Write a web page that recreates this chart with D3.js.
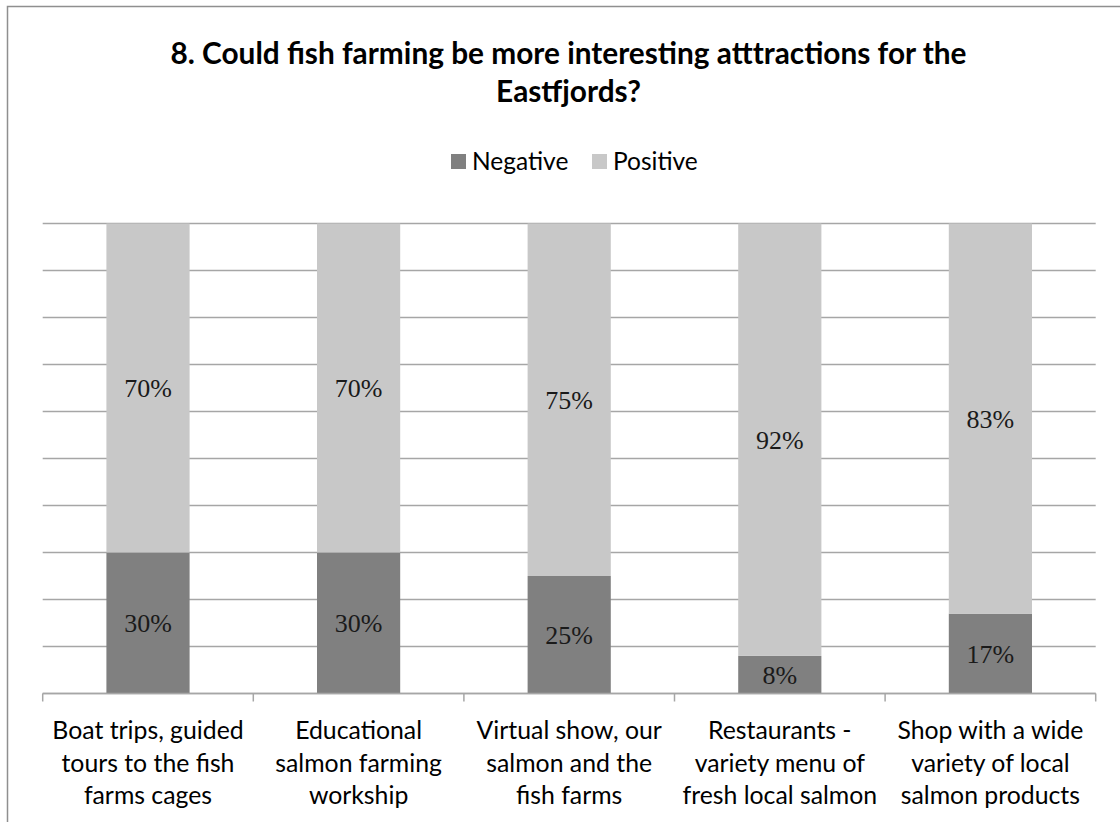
<!DOCTYPE html>
<html>
<head>
<meta charset="utf-8">
<script src="https://cdn.jsdelivr.net/npm/d3@7"></script>
<style>
  html, body { margin: 0; padding: 0; background: #fff; }
  svg { display: block; }
</style>
</head>
<body>
<svg id="chart" width="1120" height="822"></svg>
<script>
// Survey answers: share of respondents per attraction idea
const categories = [
  ["Boat trips, guided", "tours to the fish", "farms cages"],
  ["Educational", "salmon farming", "workship"],
  ["Virtual show, our", "salmon and the", "fish farms"],
  ["Restaurants -", "variety menu of", "fresh local salmon"],
  ["Shop with a wide", "variety of local", "salmon products"]
];
const negative = [30, 30, 25, 8, 17];
const positive = [70, 70, 75, 92, 83];
const seriesNames = ["Negative", "Positive"];
const seriesColors = ["#808080", "#c8c8c8"];
const titleLines = ["8. Could fish farming be more interesting atttractions for the", "Eastfjords?"];
const yTicks = d3.range(0, 101, 10);

const svg = d3.select("#chart");
const plot = { left: 42.7, right: 1095.7, top: 223.5, bottom: 693.5 };
const sansFont = "Lato, Carlito, 'Liberation Sans', sans-serif";
const serifFont = "'Liberation Serif', 'Times New Roman', serif";

// chart frame (the area continues past the visible edges)
svg.append("rect")
  .attr("x", 7.5).attr("y", 6.5)
  .attr("width", 1300).attr("height", 1000)
  .attr("fill", "none").attr("stroke", "#8f8f8f").attr("stroke-width", 1.5);

const keys = categories.map((c, i) => i);
const x = d3.scaleBand().domain(keys).range([plot.left, plot.right]);
const y = d3.scaleLinear().domain([0, 100]).range([plot.bottom, plot.top]);
const barW = x.bandwidth() * 0.395;

// horizontal gridlines
svg.append("g")
  .selectAll("line")
  .data(yTicks)
  .join("line")
  .attr("x1", plot.left).attr("x2", plot.right)
  .attr("y1", d => y(d)).attr("y2", d => y(d))
  .attr("stroke", "#a6a6a6").attr("stroke-width", 1.5);

// stacked columns
const rows = keys.map(i => ({ i, Negative: negative[i], Positive: positive[i] }));
const stack = d3.stack().keys(seriesNames)(rows);

const layers = svg.append("g").selectAll("g")
  .data(stack)
  .join("g")
  .attr("fill", (d, k) => seriesColors[k]);

layers.selectAll("rect")
  .data(d => d)
  .join("rect")
  .attr("x", d => x(d.data.i) + (x.bandwidth() - barW) / 2)
  .attr("width", barW)
  .attr("y", d => y(d[1]))
  .attr("height", d => y(d[0]) - y(d[1]));

// value labels centred in each segment
layers.selectAll("text")
  .data(d => d)
  .join("text")
  .attr("x", d => x(d.data.i) + x.bandwidth() / 2)
  .attr("y", d => (y(d[0]) + y(d[1])) / 2)
  .attr("dy", "0.35em")
  .attr("text-anchor", "middle")
  .attr("font-family", serifFont)
  .attr("font-size", 26)
  .attr("fill", "#1a1a1a")
  .text(d => Math.round(d[1] - d[0]) + "%");

// category axis with ticks at band boundaries
const axisG = svg.append("g");
axisG.append("line")
  .attr("x1", plot.left).attr("x2", plot.right)
  .attr("y1", plot.bottom).attr("y2", plot.bottom)
  .attr("stroke", "#a6a6a6").attr("stroke-width", 1.5);
const bounds = keys.map(k => x(k)).concat([plot.right]);
axisG.selectAll("line.tick")
  .data(bounds)
  .join("line")
  .attr("class", "tick")
  .attr("x1", d => d).attr("x2", d => d)
  .attr("y1", plot.bottom).attr("y2", plot.bottom + 8)
  .attr("stroke", "#a6a6a6").attr("stroke-width", 1.5);

axisG.selectAll("text.cat")
  .data(categories)
  .join("text")
  .attr("class", "cat")
  .attr("text-anchor", "middle")
  .attr("font-family", sansFont)
  .attr("font-size", 24.8)
  .attr("fill", "#000")
  .each(function(lines, i) {
    d3.select(this).selectAll("tspan")
      .data(lines)
      .join("tspan")
      .attr("x", x(i) + x.bandwidth() / 2)
      .attr("y", (d, j) => 739 + j * 32.5)
      .text(d => d);
  });

// title
svg.append("text")
  .attr("text-anchor", "middle")
  .attr("font-family", sansFont)
  .attr("font-weight", "bold")
  .attr("font-size", 29.8)
  .attr("fill", "#000")
  .selectAll("tspan")
  .data(titleLines)
  .join("tspan")
  .attr("x", 568.5)
  .attr("y", (d, j) => 64 + j * 38)
  .text(d => d);

// legend
const legendX = [451, 592];
const legend = svg.append("g").selectAll("g")
  .data(seriesNames)
  .join("g")
  .attr("transform", (d, k) => `translate(${legendX[k]},154)`);
legend.append("rect")
  .attr("width", 15).attr("height", 15)
  .attr("fill", (d, k) => seriesColors[k]);
legend.append("text")
  .attr("x", 21).attr("y", 16)
  .attr("font-family", sansFont)
  .attr("font-size", 24.5)
  .attr("fill", "#000")
  .text(d => d);
</script>
</body>
</html>
